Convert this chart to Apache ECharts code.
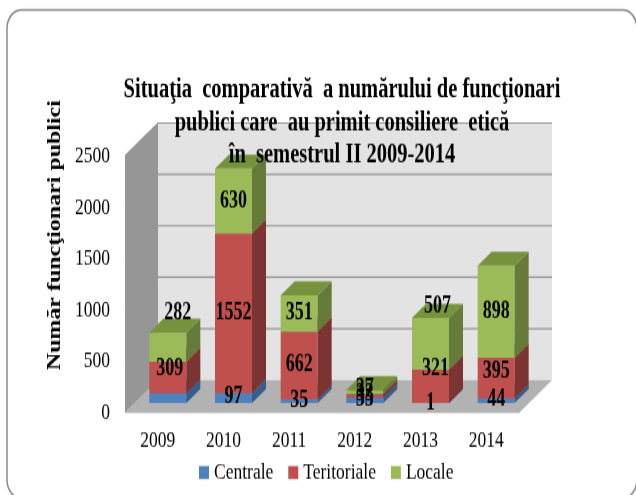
<!DOCTYPE html>
<html><head><meta charset="utf-8">
<script src="https://cdn.jsdelivr.net/npm/echarts@6/dist/echarts.min.js"></script>
<style>html,body{margin:0;padding:0;background:#fff;height:100%}
#c{width:636px;height:372px;transform-origin:0 0;transform:scale(1,1.33)}</style>
</head><body><div id="c"></div>
<script>
const categories = ['2009','2010','2011','2012','2013','2014'];
const centrale = [93,97,35,55,1,44];
const teritoriale = [309,1552,662,33,321,395];
const locale = [282,630,351,37,507,898];
const shownCentrale = [false,true,true,true,true,true];
const yTicks = [0,500,1000,1500,2000,2500];
const titleText = 'Situaţia  comparativă  a numărului de funcţionari\npublici care  au primit consiliere  etică\nîn  semestrul II 2009-2014';
const yName = 'Număr funcţionari publici';
const SY = 1.33;
const px = v => v / SY;
// label nudges from the centre of each segment, in screen px
const nudgeX = [[0,0,0,0,0,0],[2,0,0,0,5,0],[10,0,0,0,7,0]];
const nudgeY = [[0,-1,-1,-1,0,-1],[-9,0,0,-2,-18,-7],[-34,0,0,-3,-37,0]];

const seriesData = [centrale, teritoriale, locale];
const names = ['Centrale','Teritoriale','Locale'];
const front = ['#4f81bd','#c0504d','#9bbb59'];
const side = ['#385d8a','#7b3431','#667a3a'];
const topc = ['#426b9c','#8f3e3b','#76923c'];
const D = {bar0:10, bar1:24, wall:33};
const poly = (pts, fill, z) => ({type:'polygon', shape:{points:pts}, style:{fill}, z2:z});

function walls(params, api){
  const cs = params.coordSys;
  const l = cs.x, r = cs.x + cs.width;
  const y0 = api.coord([0,0])[1], yT = api.coord([0,2500])[1];
  const d = D.wall, dy = px(d);
  const ch = [
    poly([[l+d,y0-dy],[r+d,y0-dy],[r+d,yT-dy],[l+d,yT-dy]], '#e3e3e3', 1),
    poly([[l,y0],[l+d,y0-dy],[l+d,yT-dy],[l,yT]], '#969696', 2),
    poly([[l,y0],[r,y0],[r+d,y0-dy],[l+d,y0-dy]], '#b2b2b2', 3)
  ];
  yTicks.forEach(t=>{
    const y = api.coord([0,t])[1];
    if (t>0) ch.push({type:'polyline',shape:{points:[[l,y],[l+d,y-dy],[r+d,y-dy]]},style:{fill:null,stroke:'#969696',lineWidth:1.2},z2:4});
  });
  return {type:'group',children:ch};
}
function barSeg(s){
  return function(params, api){
    const i = api.value(0), a = api.value(1), b = api.value(2);
    const cx = api.coord([i,0])[0], bw = 37;
    const d0 = D.bar0, d1 = D.bar1;
    const x0 = cx - bw/2 + d0, x1 = x0 + bw;
    const ya = api.coord([i,a])[1] - px(d0), yb = api.coord([i,b])[1] - px(d0);
    const e = d1-d0, ey = px(e);
    const ch = [
      poly([[x0,ya],[x1,ya],[x1,yb],[x0,yb]], front[s], 1),
      poly([[x1,ya],[x1+e,ya-ey],[x1+e,yb-ey],[x1,yb]], side[s], 1),
      poly([[x0,yb],[x1,yb],[x1+e,yb-ey],[x0+e,yb-ey]], topc[s], 1)
    ];
    return {type:'group',children:ch};
  };
}
function labels(params, api){
  const i = api.value(0), s = api.value(1), a = api.value(2), b = api.value(3);
  const cx = api.coord([i,0])[0] + D.bar0 + nudgeX[s][i];
  const y = (api.coord([i,a])[1] + api.coord([i,b])[1])/2 - px(D.bar0) + px(nudgeY[s][i]);
  return {type:'text',x:cx,y:y,style:{text:String(seriesData[s][i]),font:'bold 18px "Liberation Serif"',fill:'#000',align:'center',verticalAlign:'middle'},z2:50};
}
const series = [{type:'custom',name:'_walls',coordinateSystem:'cartesian2d',renderItem:walls,data:[[0]],silent:true,z:1,encode:{x:0}}];
const labelRows = [];
const base = categories.map(()=>0);
names.forEach((n,s)=>{
  const rows = categories.map((c,i)=>{
    const a = base[i], b = a + seriesData[s][i];
    base[i] = b;
    if (s>0 || shownCentrale[i]) labelRows.push([i,s,a,b]);
    return [i,a,b];
  });
  series.push({type:'custom',name:n,coordinateSystem:'cartesian2d',renderItem:barSeg(s),data:rows,encode:{x:0,y:[1,2]},itemStyle:{color:front[s]},z:2+s});
});
series.push({type:'custom',name:'_labels',coordinateSystem:'cartesian2d',renderItem:labels,data:labelRows,encode:{x:0,y:[2,3]},z:10,silent:true});

const chart = echarts.init(document.getElementById('c'),null,{renderer:'canvas'});
chart.setOption({
  animation:false,
  backgroundColor:'#fff',
  textStyle:{fontFamily:'Liberation Serif'},
  grid:{left:125,width:394,top:px(156),height:px(257)},
  xAxis:{type:'category',data:categories,axisLine:{show:false},axisTick:{show:false},splitLine:{show:false},
    axisLabel:{color:'#000',fontSize:17.5,fontFamily:'Liberation Serif',margin:px(16)}},
  yAxis:{type:'value',min:0,max:2500,interval:500,axisLine:{show:false},axisTick:{show:false},splitLine:{show:false},
    axisLabel:{color:'#000',fontSize:17.5,fontFamily:'Liberation Serif',margin:15,formatter:v=>String(v)}},
  title:{text:titleText,left:337,top:px(68),textAlign:'center',
    textStyle:{color:'#000',fontSize:20.5,fontWeight:'bold',fontFamily:'Liberation Serif',lineHeight:px(32)},z:20},
  legend:{data:names,left:194,top:px(454),itemWidth:10,itemHeight:px(13),itemGap:15,icon:'rect',
    textStyle:{color:'#000',fontSize:17.5,fontFamily:'Liberation Serif'}},
  graphic:[
    {type:'rect',shape:{x:7,y:px(10),width:630,height:px(488),r:14},style:{fill:'none',stroke:'#8a8a8a',lineWidth:1.5},z:-1,silent:true},
    {type:'text',x:55,y:px(235),rotation:Math.PI/2,silent:true,z:20,
      style:{text:yName,font:'bold 18px "Liberation Serif"',fill:'#000',align:'center',verticalAlign:'middle'}}
  ],
  series
});
</script></body></html>
